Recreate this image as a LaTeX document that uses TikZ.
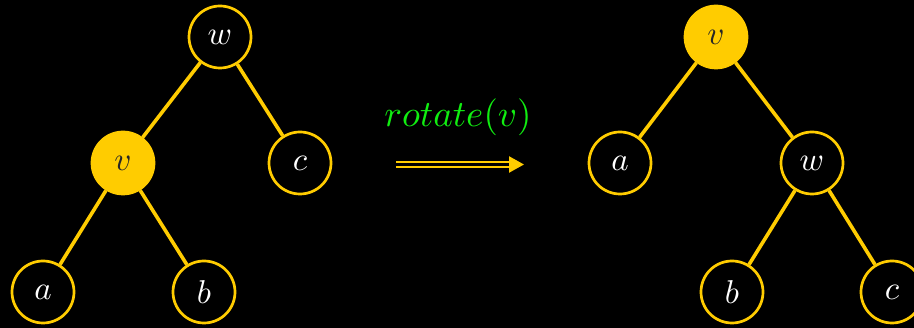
\documentclass[tikz,border=0pt]{standalone}
\usepackage{graphicx}
\usepackage{tikz}
\usetikzlibrary{arrows.meta}
\definecolor{gold}{HTML}{FFCC00}
\definecolor{grn}{HTML}{11EE11}
\newcommand{\lbltxt}[1]{\scalebox{3.3}{$#1$}}
\tikzset{
  tn/.style={circle, draw=gold, line width=2.7pt, minimum size=62pt, inner sep=0pt, text=white},
  hl/.style={tn, fill=gold, text=black!85},
  ed/.style={draw=gold, line width=3.6pt},
}
\begin{document}
\begin{tikzpicture}[x=1pt,y=-1pt]
\fill[black] (0,0) rectangle (914,328);
\useasboundingbox (0,0) rectangle (914,328);
% left tree
\node[tn] (w1) at (220,37) {\lbltxt{w}};
\node[hl] (v1) at (123,163) {\lbltxt{v}};
\node[tn] (c1) at (300,163) {\lbltxt{c}};
\node[tn] (a1) at (43,292) {\lbltxt{a}};
\node[tn] (b1) at (204,292) {\lbltxt{b}};
\draw[ed] (w1) -- (v1);
\draw[ed] (w1) -- (c1);
\draw[ed] (v1) -- (a1);
\draw[ed] (v1) -- (b1);
% right tree
\node[hl] (v2) at (716,37) {\lbltxt{v}};
\node[tn] (a2) at (620,163) {\lbltxt{a}};
\node[tn] (w2) at (812,163) {\lbltxt{w}};
\node[tn] (b2) at (732,292) {\lbltxt{b}};
\node[tn] (c2) at (892,292) {\lbltxt{c}};
\draw[ed] (v2) -- (a2);
\draw[ed] (v2) -- (w2);
\draw[ed] (w2) -- (b2);
\draw[ed] (w2) -- (c2);
% arrow
\node[text=grn] (lbl) at (458,117) {\scalebox{3.7}{$rotate(v)$}};
\coordinate (s) at (396,164.5);
\coordinate (t) at (524,164.5);
\draw[gold, line width=2.3pt, double=black, double distance=2.4pt, -{Triangle[length=15pt,width=16pt,fill=gold]}] (s) -- (t);
\end{tikzpicture}
\end{document}
